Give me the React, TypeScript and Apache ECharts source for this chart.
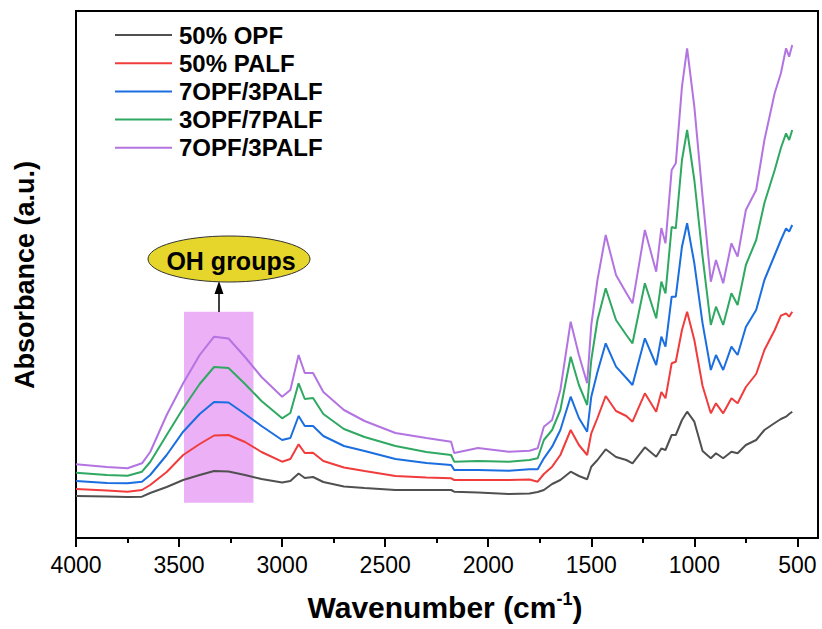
import React, { useEffect, useRef } from "react";
import * as echarts from "echarts";

// Wavenumber (cm-1) sampling points
const wavenumbers = [4000,3850,3750,3680,3640,3560,3480,3400,3330,3260,3180,3100,3000,2960,2920,2890,2850,2800,2700,2600,2450,2300,2180,2165,2050,1900,1800,1760,1730,1690,1650,1600,1560,1520,1500,1470,1430,1380,1330,1300,1240,1185,1160,1140,1110,1090,1060,1035,1000,960,920,895,860,820,790,750,700,660,610,580,555,540,525];

// Absorbance (a.u., offset stacked)
const opf50 = [42,41.5,41,41.3,45,51,58,63,67,66.5,63,59,55.5,57,64.5,60,61,56,51.5,50,48,48,48,46.3,45.5,44,44.5,46,48,54,58,66.3,62,58.7,71.3,78,88.7,81,78,74.7,90.7,81.3,89.5,88,103,103,118,126.3,116.3,87,79.7,84.7,79.7,86.3,84.7,93,98,108,115,119,121.3,124,126.3];
const palf50 = [49,47.5,46.3,48,53,66,83,94,102.5,103,96,86,76.3,79,93.7,85,85.3,77,70.5,67,62,60.5,59.7,58,58,58,58.5,56.3,64,71.3,83,108,93,83,104.7,120,142,127,122,116.3,144.7,126.3,146,139.7,174.7,176.3,208,226.3,198,152,124.7,134.7,124.7,139.7,134.7,151,164,188,208,222.3,224.7,221.3,226.3];
const opf7palf3a = [57,55,54.7,56.3,63,83,106.3,124,136,135.5,124,112,98,100,122,112,112,102,92,87,79,75,73,68,68,67.3,68.7,68.7,79.7,91.3,108,141.3,120,106.3,141.3,166,194.7,171.3,160,153,199.7,173,201.3,191.3,241.3,241.3,291.3,314.7,274.7,214.7,168,183,168,191.3,183,211,228,258,283,298,309.7,306.3,313];
const opf3palf7 = [65.3,63,62.3,66.3,76,103,129.7,154,171,170,154,137,119.7,125,154.7,139,140,124,109,101,92,86,83,76.3,77,76.3,78,79.7,98,108,128,181.3,153,133,178,218,249.7,218,203,194.7,254.7,219.7,256.3,244.7,311,309.7,378,408,358,281.3,213,231.3,213,244.7,233,273,298,335,368,390,404.7,398,408];
const opf7palf3b = [73.7,71,69.7,74.7,86,123,154.7,183,201.3,199.5,181,161,141.3,148,183,165,165,146,128,117,105,100,96.3,85,90,86.3,87.3,89.7,111.3,118,148,216.3,183,154.7,213,258,303,263,245,234.7,308,266.3,310,294.7,368,374.7,451.3,489.7,431.3,341.3,256.3,278,254.7,294.7,281.3,328,348,398,445,464.7,489.7,481.3,493];

const seriesNames = ["50% OPF", "50% PALF", "7OPF/3PALF", "3OPF/7PALF", "7OPF/3PALF"];
const seriesValues = [opf50, palf50, opf7palf3a, opf3palf7, opf7palf3b];
const seriesColors = ["#505050", "#f03c3c", "#1a6ee0", "#2fa862", "#b374e2"];

const majorTicks = [4000, 3500, 3000, 2500, 2000, 1500, 1000, 500];
const minorTicks = [3750, 3250, 2750, 2250, 1750, 1250, 750];

// OH region highlight (wavenumber range, absorbance range)
const ohRegionX = [3476, 3139];
const ohRegionY = [35.3, 226.3];

const FONT = '"Liberation Sans", Arial, Helvetica, sans-serif';

export default function App() {
  const ref = useRef<HTMLDivElement>(null);
  useEffect(() => {
    document.body.style.margin = "0";
    const chart = echarts.init(ref.current!, null, { renderer: "svg" });
    const legendRows = [35, 63.2, 91.4, 119.6, 147.8];
    const legendGraphics: any[] = [];
    seriesNames.forEach((name, i) => {
      legendGraphics.push({
        type: "line",
        shape: { x1: 115, y1: legendRows[i], x2: 172, y2: legendRows[i] },
        style: { stroke: seriesColors[i], lineWidth: 2 },
        z: 10,
      });
      legendGraphics.push({
        type: "text",
        x: 179,
        y: legendRows[i],
        style: {
          text: name,
          fill: "#000",
          font: `bold 24px ${FONT}`,
          verticalAlign: "middle",
          align: "left",
        },
        z: 10,
      });
    });

    const option: any = {
      animation: false,
      backgroundColor: "#fff",
      grid: {
        left: 76,
        right: 4,
        top: 11,
        bottom: 91,
        show: true,
        borderColor: "#000",
        borderWidth: 2,
        backgroundColor: "transparent",
      },
      xAxis: [
        {
          type: "value",
          min: 400,
          max: 4000,
          inverse: true,
          axisLine: { show: true, lineStyle: { color: "#000", width: 2 } },
          axisTick: {
            show: true,
            customValues: majorTicks,
            length: 9,
            lineStyle: { color: "#000", width: 2 },
          },
          axisLabel: {
            show: true,
            customValues: majorTicks,
            formatter: (v: number) => String(v),
            margin: 15,
            color: "#000",
            fontSize: 23,
            fontFamily: FONT,
          },
          splitLine: { show: false },
        },
        {
          type: "value",
          min: 400,
          max: 4000,
          inverse: true,
          position: "bottom",
          axisLine: { show: false },
          axisTick: {
            show: true,
            customValues: minorTicks,
            length: 5,
            lineStyle: { color: "#000", width: 2 },
          },
          axisLabel: { show: false },
          splitLine: { show: false },
        },
      ],
      yAxis: {
        type: "value",
        min: 0,
        max: 527,
        axisLine: { show: true, lineStyle: { color: "#000", width: 2 } },
        axisTick: { show: false },
        axisLabel: { show: false },
        splitLine: { show: false },
      },
      series: seriesNames.map((name, i) => ({
        name: name + "#" + i,
        type: "line",
        xAxisIndex: 0,
        symbol: "none",
        smooth: false,
        lineStyle: { color: seriesColors[i], width: 2 },
        itemStyle: { color: seriesColors[i] },
        data: wavenumbers.map((w, k) => [w, seriesValues[i][k]]),
        markArea:
          i === 0
            ? {
                silent: true,
                itemStyle: { color: "#ebb0f5", opacity: 1 },
                data: [
                  [
                    { coord: [ohRegionX[0], ohRegionY[0]] },
                    { coord: [ohRegionX[1], ohRegionY[1]] },
                  ],
                ],
              }
            : undefined,
      })),
      graphic: [
        ...legendGraphics,
        {
          type: "line",
          shape: { x1: 219, y1: 312, x2: 219, y2: 292 },
          style: { stroke: "#000", lineWidth: 1.5 },
          z: 10,
        },
        {
          type: "polygon",
          shape: { points: [[219, 281], [214.5, 294], [223.5, 294]] },
          style: { fill: "#000" },
          z: 10,
        },
        {
          type: "ellipse",
          shape: { cx: 229, cy: 259, rx: 81, ry: 23 },
          style: { fill: "#e6d62c", stroke: "#333", lineWidth: 1 },
          z: 10,
        },
        {
          type: "text",
          x: 231,
          y: 261,
          style: {
            text: "OH groups",
            fill: "#000",
            font: `bold 25px ${FONT}`,
            align: "center",
            verticalAlign: "middle",
          },
          z: 11,
        },
        {
          type: "text",
          x: 25,
          y: 275,
          rotation: Math.PI / 2,
          style: {
            text: "Absorbance (a.u.)",
            fill: "#000",
            font: `bold 27px ${FONT}`,
            align: "center",
            verticalAlign: "middle",
          },
          z: 10,
        },
        {
          type: "text",
          x: 445,
          y: 607,
          style: {
            text: "{a|Wavenumber (cm}{b|-1}{a|)}",
            align: "center",
            verticalAlign: "middle",
            rich: {
              a: {
                fontSize: 30,
                fontWeight: "bold",
                fontFamily: FONT,
                fill: "#000",
                color: "#000",
                lineHeight: 34,
              },
              b: {
                fontSize: 18,
                fontWeight: "bold",
                fontFamily: FONT,
                fill: "#000",
                color: "#000",
                verticalAlign: "top",
                lineHeight: 34,
                padding: [0, 0, 14, 0],
              },
            },
          },
          z: 10,
        },
      ],
    };
    chart.setOption(option);
    return () => chart.dispose();
  }, []);
  return <div ref={ref} style={{ width: 822, height: 629 }} />;
}
